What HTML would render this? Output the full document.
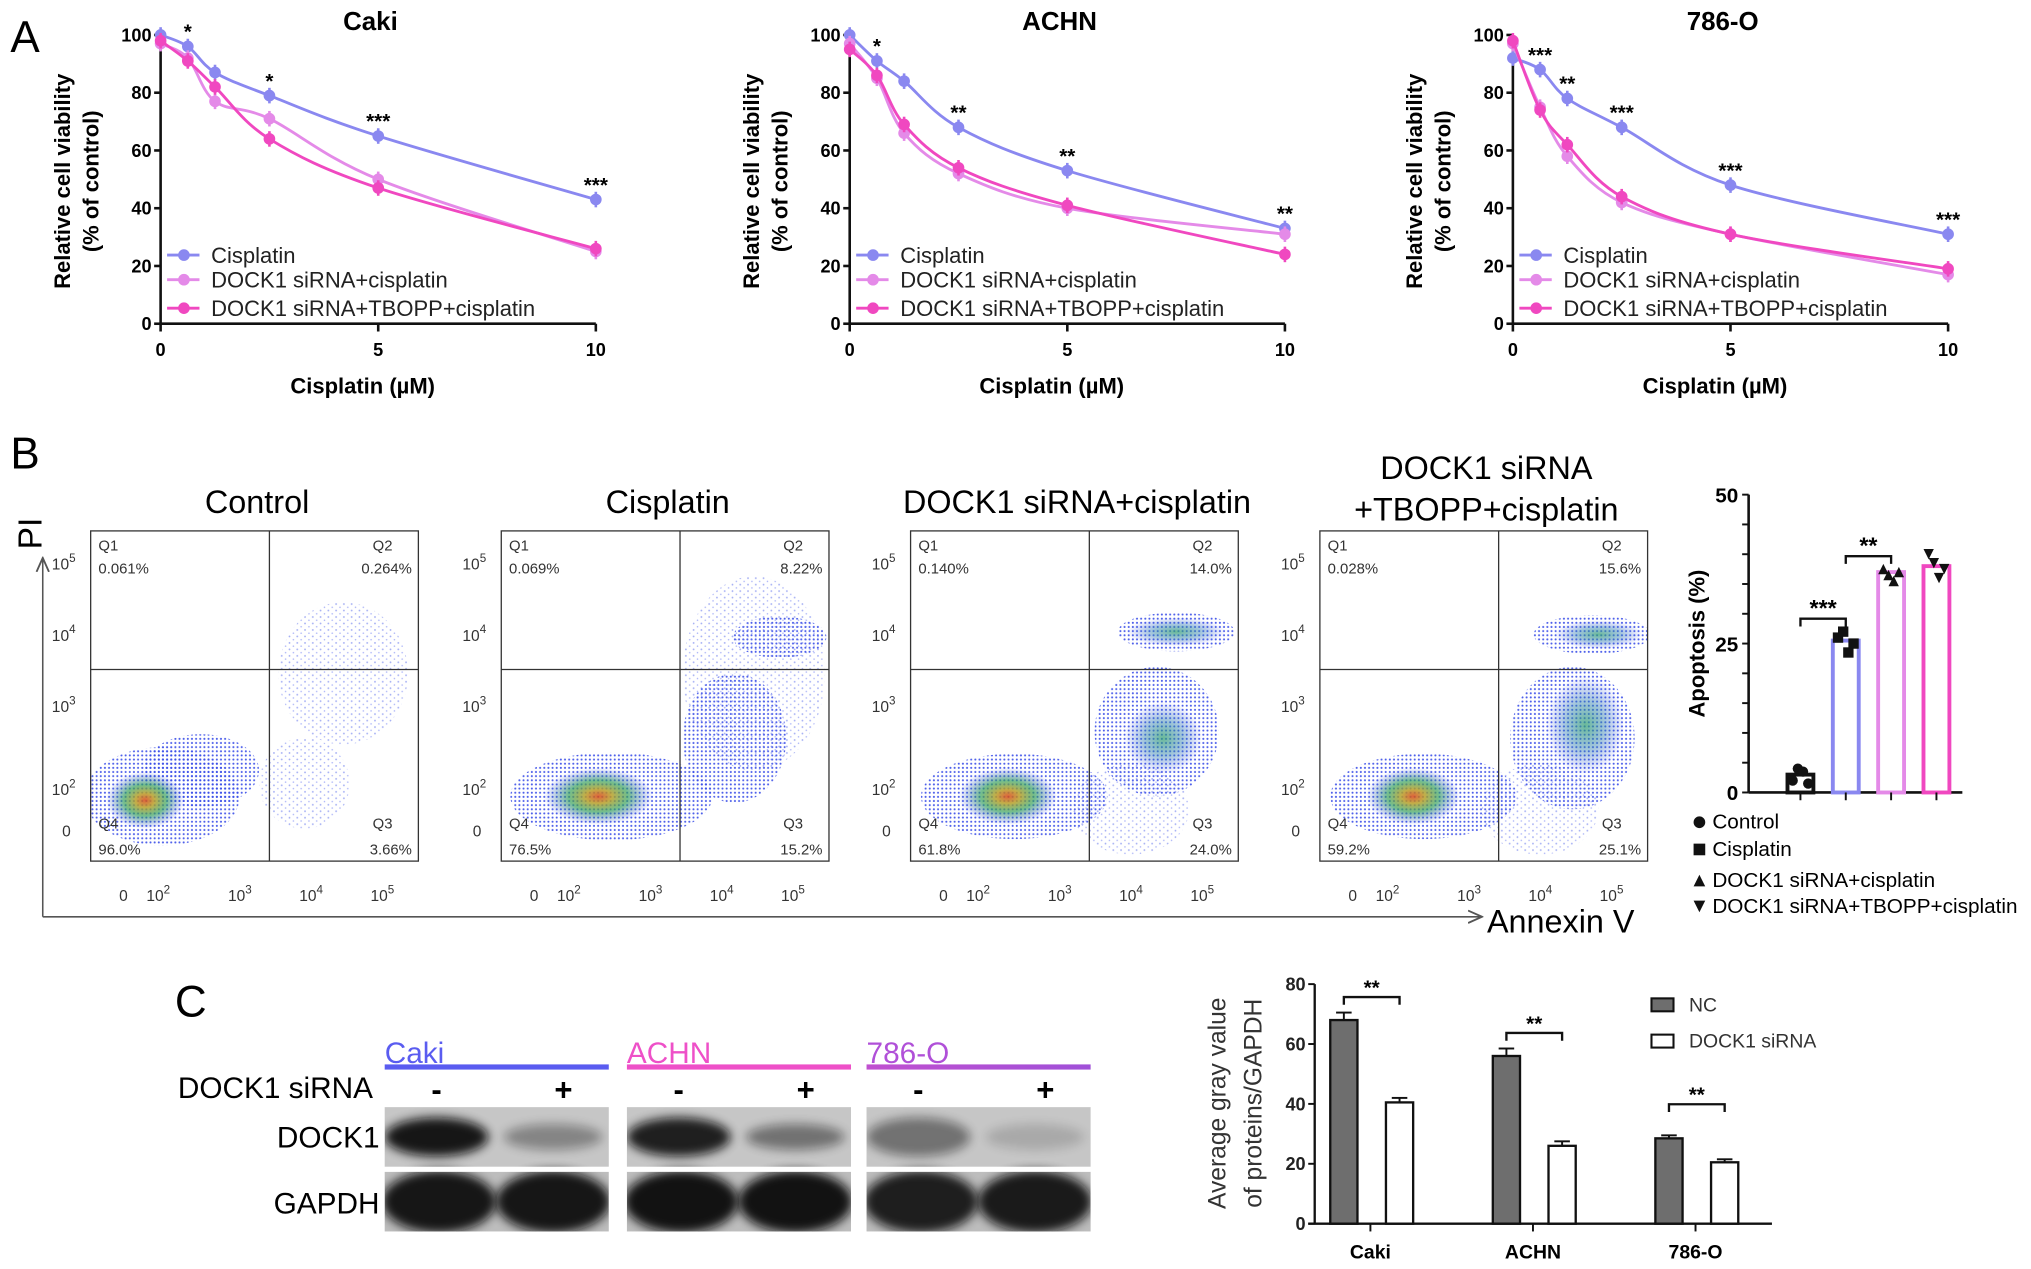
<!DOCTYPE html>
<html><head><meta charset="utf-8">
<style>
html,body{margin:0;padding:0;background:#fff;}
svg{display:block;font-family:"Liberation Sans",Arial,sans-serif;}
</style></head>
<body>
<svg id="fig" width="2031" height="1269" viewBox="0 0 1568 980" preserveAspectRatio="none" xmlns="http://www.w3.org/2000/svg">
<defs>
<pattern id="dotsBlue" width="3.2" height="3.2" patternUnits="userSpaceOnUse"><circle cx="1" cy="1" r="0.8" fill="#3a4ee8"/></pattern>
<pattern id="dotsSparse" width="6" height="5" patternUnits="userSpaceOnUse"><circle cx="1.5" cy="1.5" r="0.7" fill="#4a5ee8"/><circle cx="4.5" cy="4" r="0.6" fill="#6070f0"/></pattern>
<radialGradient id="core" cx="50%" cy="50%" r="50%">
<stop offset="0" stop-color="#d84818"/><stop offset="0.25" stop-color="#b8a028"/><stop offset="0.55" stop-color="#30a058" stop-opacity="0.8"/><stop offset="1" stop-color="#2840e0" stop-opacity="0"/>
</radialGradient>
<radialGradient id="green" cx="50%" cy="50%" r="50%">
<stop offset="0" stop-color="#30a070" stop-opacity="0.8"/><stop offset="0.5" stop-color="#3080b0" stop-opacity="0.5"/><stop offset="1" stop-color="#2840e0" stop-opacity="0"/>
</radialGradient>
<linearGradient id="purpleLine" x1="0" x2="1"><stop offset="0" stop-color="#c050d0"/><stop offset="1" stop-color="#a050d8"/></linearGradient>
<filter id="blur" x="-30%" y="-60%" width="160%" height="220%"><feGaussianBlur stdDeviation="4"/></filter>
<marker id="arrow" markerWidth="10" markerHeight="10" refX="8" refY="5" orient="auto"><path d="M0,1 L9,5 L0,9" fill="none" stroke="#555" stroke-width="1.2"/></marker>
</defs>

<text x="8" y="40" font-size="34">A</text>
<text x="8" y="362" font-size="34">B</text>
<text x="135" y="785" font-size="34">C</text>

<g id="panelA"></g>
<g id="panelB"></g>
<g id="apop"></g>
<g id="blot"></g>
<g id="gray"></g>
</svg>

<script>
// ---------- Panel A data ----------
const doses = [0, 0.625, 1.25, 2.5, 5, 10];
const xTicksA = [0, 5, 10];
const yTicksA = [0, 20, 40, 60, 80, 100];
const seriesNames = ['Cisplatin', 'DOCK1 siRNA+cisplatin', 'DOCK1 siRNA+TBOPP+cisplatin'];
const cakiCis = [100, 96, 87, 79, 65, 43];
const cakiSi  = [97, 92, 77, 71, 50, 25];
const cakiTb  = [98, 91, 82, 64, 47, 26];
const cakiStars = ['', '*', '', '*', '***', '***'];
const achnCis = [100, 91, 84, 68, 53, 33];
const achnSi  = [97, 85, 66, 52, 40, 31];
const achnTb  = [95, 86, 69, 54, 41, 24];
const achnStars = ['', '*', '', '**', '**', '**'];
const o786Cis = [92, 88, 78, 68, 48, 31];
const o786Si  = [97, 75, 58, 42, 31, 17];
const o786Tb  = [98, 74, 62, 44, 31, 19];
const o786Stars = ['', '***', '**', '***', '***', '***'];

// ---------- Panel B data ----------
const flowTitles = ['Control', 'Cisplatin', 'DOCK1 siRNA+cisplatin', 'DOCK1 siRNA\n+TBOPP+cisplatin'];
const flowQ1 = ['0.061%', '0.069%', '0.140%', '0.028%'];
const flowQ2 = ['0.264%', '8.22%', '14.0%', '15.6%'];
const flowQ3 = ['3.66%', '15.2%', '24.0%', '25.1%'];
const flowQ4 = ['96.0%', '76.5%', '61.8%', '59.2%'];

const apopGroups = ['Control', 'Cisplatin', 'DOCK1 siRNA+cisplatin', 'DOCK1 siRNA+TBOPP+cisplatin'];
const apopValues = [3, 25.5, 37, 38];
const apopPoints = [[2, 4, 3.5, 1.5], [26, 27, 23.5, 25], [37.5, 36.5, 35.5, 37], [40, 38.5, 36, 37.5]];
const apopTicks = [0, 25, 50];

// ---------- Panel C data ----------
const grayCats = ['Caki', 'ACHN', '786-O'];
const grayNC = [68, 56, 28.5];
const graySi = [40.5, 26, 20.5];
const grayNCerr = [2.5, 2.5, 1];
const graySiErr = [1.5, 1.5, 1];
const grayTicks = [0, 20, 40, 60, 80];

const NS = 'http://www.w3.org/2000/svg';
function mk(tag, attrs, parent) {
  const e = document.createElementNS(NS, tag);
  for (const k in attrs) e.setAttribute(k, attrs[k]);
  parent.appendChild(e);
  return e;
}
const colors = ['#8a88f0', '#e48ae8', '#f048c0'];

// ================= Panel A =================
const panelA = document.getElementById('panelA');
const aPanels = [
  {title: 'Caki', x0: 124, data: [cakiCis, cakiSi, cakiTb], stars: cakiStars},
  {title: 'ACHN', x0: 656, data: [achnCis, achnSi, achnTb], stars: achnStars},
  {title: '786-O', x0: 1168, data: [o786Cis, o786Si, o786Tb], stars: o786Stars}
];
function smoothPath(pts) {
  let d = 'M' + pts[0][0] + ',' + pts[0][1];
  for (let i = 0; i < pts.length - 1; i++) {
    const p0 = pts[i - 1] || pts[i], p1 = pts[i], p2 = pts[i + 1], p3 = pts[i + 2] || p2;
    const c1x = p1[0] + (p2[0] - p0[0]) / 6, c1y = p1[1] + (p2[1] - p0[1]) / 6;
    const c2x = p2[0] - (p3[0] - p1[0]) / 6, c2y = p2[1] - (p3[1] - p1[1]) / 6;
    d += ' C' + c1x + ',' + c1y + ' ' + c2x + ',' + c2y + ' ' + p2[0] + ',' + p2[1];
  }
  return d;
}
aPanels.forEach((p, pi) => {
  const g = mk('g', {}, panelA);
  
  
  const xs = v => p.x0 + v / 10 * 336;
  const ys = v => 250 - v / 100 * 223;
  const t = mk('text', {x: xs(5) - 6, y: 23, 'font-size': 20, 'font-weight': 'bold', 'text-anchor': 'middle'}, g);
  t.textContent = p.title;
  
  
  const yl = mk('text', {transform: 'translate(' + (p.x0 - 70) + ',140) rotate(-90)', 'font-size': 17, 'font-weight': 'bold', 'text-anchor': 'middle'}, g);
  yl.textContent = 'Relative cell viability';
  
  
  const yl2 = mk('text', {transform: 'translate(' + (p.x0 - 48) + ',140) rotate(-90)', 'font-size': 17, 'font-weight': 'bold', 'text-anchor': 'middle'}, g);
  yl2.textContent = '(% of control)';
  
  
  const xl = mk('text', {x: xs(5) - 12, y: 304, 'font-size': 17, 'font-weight': 'bold', 'text-anchor': 'middle'}, g);
  xl.textContent = 'Cisplatin (µM)';
  
  
  const ya = mk('line', {x1: p.x0, y1: ys(100), x2: p.x0, y2: ys(0), stroke: '#111', 'stroke-width': 2}, g);
  
  
  const xa = mk('line', {x1: p.x0, y1: ys(0), x2: xs(10), y2: ys(0), stroke: '#111', 'stroke-width': 2}, g);
  
  
  yTicksA.forEach(v => {
    mk('line', {x1: p.x0 - 5, y1: ys(v), x2: p.x0, y2: ys(v), stroke: '#111', 'stroke-width': 2}, g);
    const tl = mk('text', {x: p.x0 - 7, y: ys(v) + 5, 'font-size': 14, 'font-weight': 'bold', 'text-anchor': 'end'}, g);
    tl.textContent = v;
    
    
  });
  xTicksA.forEach(v => {
    mk('line', {x1: xs(v), y1: ys(0), x2: xs(v), y2: ys(0) + 6, stroke: '#111', 'stroke-width': 2}, g);
    const tl = mk('text', {x: xs(v), y: 275, 'font-size': 14, 'font-weight': 'bold', 'text-anchor': 'middle'}, g);
    tl.textContent = v;
    
    
  });
  p.data.forEach((arr, si) => {
    const pts = doses.map((d, i) => [xs(d), ys(arr[i])]);
    const path = mk('path', {d: smoothPath(pts), fill: 'none', stroke: colors[si], 'stroke-width': 2.2}, g);
    
    
    pts.forEach(pt => {
      const c = mk('circle', {cx: pt[0], cy: pt[1], r: 4.5, fill: colors[si]}, g);
      
      
      mk('line', {x1: pt[0], y1: pt[1] - 6, x2: pt[0], y2: pt[1] + 6, stroke: colors[si], 'stroke-width': 2}, g);
    });
  });
  p.stars.forEach((s, i) => {
    if (!s) return;
    const top = Math.max(p.data[0][i], p.data[1][i], p.data[2][i]);
    const st = mk('text', {x: xs(doses[i]), y: ys(top) - 6, 'font-size': 16, 'font-weight': 'bold', 'text-anchor': 'middle'}, g);
    st.textContent = s;
    
    
  });
  seriesNames.forEach((n, si) => {
    const ly = [197, 216, 238][si];
    mk('line', {x1: p.x0 + 5, y1: ly, x2: p.x0 + 30, y2: ly, stroke: colors[si], 'stroke-width': 2.2}, g);
    const lm = mk('circle', {cx: p.x0 + 18, cy: ly, r: 4.5, fill: colors[si]}, g);
    
    
    const lt = mk('text', {x: p.x0 + 39, y: ly + 6, 'font-size': 17, fill: '#222'}, g);
    lt.textContent = n;
    
    
  });
});

// ================= Panel B: flow plots =================
const panelB = document.getElementById('panelB');
const piLabel = mk('text', {transform: 'translate(32,412) rotate(-90)', 'font-size': 26, 'text-anchor': 'middle'}, panelB);
piLabel.textContent = 'PI';


mk('line', {x1: 33, y1: 708, x2: 33, y2: 432, stroke: '#555', 'stroke-width': 1.2, 'marker-end': 'url(#arrow)'}, panelB);
mk('line', {x1: 33, y1: 708, x2: 1143, y2: 708, stroke: '#555', 'stroke-width': 1.2, 'marker-end': 'url(#arrow)'}, panelB);
const annex = mk('text', {x: 1148, y: 720, 'font-size': 25}, panelB);
annex.textContent = 'Annexin V';



const boxLefts = [70, 387, 703, 1019];
const blobs = [
  [ {t:'d',cx:55,cy:205,rx:60,ry:38}, {t:'d',cx:85,cy:185,rx:45,ry:28}, {t:'s',cx:195,cy:110,rx:50,ry:55}, {t:'s',cx:165,cy:195,rx:35,ry:35}, {t:'c',cx:42,cy:208,rx:30,ry:22} ],
  [ {t:'d',cx:85,cy:205,rx:78,ry:34}, {t:'d',cx:180,cy:160,rx:40,ry:50}, {t:'d',cx:215,cy:82,rx:36,ry:16}, {t:'s',cx:195,cy:110,rx:55,ry:75}, {t:'c',cx:75,cy:205,rx:42,ry:22} ],
  [ {t:'d',cx:80,cy:205,rx:72,ry:33}, {t:'d',cx:190,cy:155,rx:48,ry:50}, {t:'d',cx:205,cy:78,rx:45,ry:15}, {t:'g',cx:205,cy:78,rx:38,ry:11}, {t:'g',cx:195,cy:160,rx:30,ry:28}, {t:'s',cx:170,cy:215,rx:45,ry:35}, {t:'c',cx:75,cy:205,rx:38,ry:22} ],
  [ {t:'d',cx:80,cy:205,rx:72,ry:33}, {t:'d',cx:195,cy:160,rx:48,ry:55}, {t:'d',cx:210,cy:80,rx:45,ry:15}, {t:'g',cx:215,cy:80,rx:34,ry:11}, {t:'g',cx:205,cy:150,rx:30,ry:38}, {t:'s',cx:170,cy:215,rx:45,ry:35}, {t:'c',cx:72,cy:205,rx:36,ry:22} ]
];
boxLefts.forEach((bx, i) => {
  const g = mk('g', {}, panelB);
  
  
  const by = 410, bw = 253, bh = 255;
  const lines = flowTitles[i].split('\n');
  lines.forEach((ln, k) => {
    const tt = mk('text', {x: bx + bw / 2 + 2, y: (lines.length > 1 ? 370 + k * 32 : 396), 'font-size': 25, 'text-anchor': 'middle'}, g);
    tt.textContent = ln;
    
    
  });
  const cp = 'clipF' + i;
  const clip = mk('clipPath', {id: cp}, g);
  mk('rect', {x: bx, y: by, width: bw, height: bh}, clip);
  const bg = mk('g', {'clip-path': 'url(#' + cp + ')'}, g);
  blobs[i].forEach(b => {
    const fill = b.t === 'd' ? 'url(#dotsBlue)' : b.t === 's' ? 'url(#dotsSparse)' : b.t === 'g' ? 'url(#green)' : 'url(#core)';
    mk('ellipse', {cx: bx + b.cx, cy: by + b.cy, rx: b.rx, ry: b.ry, fill: fill, opacity: b.t === 's' ? 0.5 : (b.t === 'c' ? 0.85 : 0.9)}, bg);
  });
  const box = mk('rect', {x: bx, y: by, width: bw, height: bh, fill: 'none', stroke: '#333', 'stroke-width': 1}, g);
  
  
  mk('line', {x1: bx + 138, y1: by, x2: bx + 138, y2: by + bh, stroke: '#333', 'stroke-width': 1}, g);
  mk('line', {x1: bx, y1: by + 107, x2: bx + bw, y2: by + 107, stroke: '#333', 'stroke-width': 1}, g);
  const qs = [
    ['Q1', bx + 6, by + 15, 'start'], [flowQ1[i], bx + 6, by + 33, 'start'],
    ['Q2', bx + bw - 20, by + 15, 'end'], [flowQ2[i], bx + bw - 5, by + 33, 'end'],
    ['Q4', bx + 6, by + 230, 'start'], [flowQ4[i], bx + 6, by + 250, 'start'],
    ['Q3', bx + bw - 20, by + 230, 'end'], [flowQ3[i], bx + bw - 5, by + 250, 'end']
  ];
  qs.forEach(q => {
    const qt = mk('text', {x: q[1], y: q[2], 'font-size': 11.5, 'text-anchor': q[3], fill: '#333'}, g);
    qt.textContent = q[0];
    
    
  });
  [['5', 30], ['4', 85], ['3', 140], ['2', 204]].forEach(t => {
    const tl = mk('text', {x: bx - 30, y: by + t[1], 'font-size': 12, fill: '#333'}, g);
    tl.textContent = '10';
    const sup = mk('tspan', {dy: -6, 'font-size': 9}, tl);
    sup.textContent = t[0];
    
    
  });
  const z = mk('text', {x: bx - 22, y: by + 236, 'font-size': 12, fill: '#333'}, g);
  z.textContent = '0';
  const zx = mk('text', {x: bx + 22, y: by + 286, 'font-size': 12, fill: '#333'}, g);
  zx.textContent = '0';
  [['2', 43], ['3', 106], ['4', 161], ['5', 216]].forEach(t => {
    const tl = mk('text', {x: bx + t[1], y: by + 286, 'font-size': 12, fill: '#333'}, g);
    tl.textContent = '10';
    const sup = mk('tspan', {dy: -6, 'font-size': 9}, tl);
    sup.textContent = t[0];
    
    
  });
});

// ================= Apoptosis chart =================
const apop = document.getElementById('apop');
const ax0 = 1350, ay0 = 612, ayTop = 382;
const apY = v => ay0 - v / 50 * (ay0 - ayTop);
const apX = i => 1390 + i * 35;
const apColors = ['#111', '#8a88f0', '#e48ae8', '#f048c0'];
mk('line', {x1: ax0, y1: ayTop, x2: ax0, y2: ay0, stroke: '#111', 'stroke-width': 2}, apop);
mk('line', {x1: ax0, y1: ay0, x2: 1515, y2: ay0, stroke: '#111', 'stroke-width': 2}, apop);
for (let v = 0; v <= 50; v += 5) mk('line', {x1: ax0 - 5, y1: apY(v), x2: ax0, y2: apY(v), stroke: '#111', 'stroke-width': 1.5}, apop);
apopTicks.forEach(v => {
  const tl = mk('text', {x: ax0 - 8, y: apY(v) + 6, 'font-size': 16, 'font-weight': 'bold', 'text-anchor': 'end'}, apop);
  tl.textContent = v;
  
  
});
const apT = mk('text', {transform: 'translate(1316,497) rotate(-90)', 'font-size': 17, 'font-weight': 'bold', 'text-anchor': 'middle'}, apop);
apT.textContent = 'Apoptosis (%)';


const markerShape = (i, x, y, s) => {
  if (i === 0) return mk('circle', {cx: x, cy: y, r: s / 2, fill: '#111'}, apop);
  if (i === 1) return mk('rect', {x: x - s / 2, y: y - s / 2, width: s, height: s, fill: '#111'}, apop);
  if (i === 2) return mk('path', {d: 'M' + x + ',' + (y - s / 2) + ' L' + (x + s / 2) + ',' + (y + s / 2) + ' L' + (x - s / 2) + ',' + (y + s / 2) + 'Z', fill: '#111'}, apop);
  return mk('path', {d: 'M' + x + ',' + (y + s / 2) + ' L' + (x + s / 2) + ',' + (y - s / 2) + ' L' + (x - s / 2) + ',' + (y - s / 2) + 'Z', fill: '#111'}, apop);
};
apopValues.forEach((v, i) => {
  const b = mk('rect', {x: apX(i) - 10, y: apY(v), width: 20, height: ay0 - apY(v), fill: 'none', stroke: apColors[i], 'stroke-width': 3}, apop);
  
  
  mk('line', {x1: apX(i), y1: ay0, x2: apX(i), y2: ay0 + 6, stroke: '#111', 'stroke-width': 1.5}, apop);
  apopPoints[i].forEach((pv, k) => {
    const m = markerShape(i, apX(i) - 6 + k * 4, apY(pv), 8);
    
    
  });
});
function bracket(parent, x1, x2, y, label, fs) {
  mk('path', {d: 'M' + x1 + ',' + (y + 6) + ' L' + x1 + ',' + y + ' L' + x2 + ',' + y + ' L' + x2 + ',' + (y + 6), fill: 'none', stroke: '#111', 'stroke-width': 1.8}, parent);
  const t = mk('text', {x: (x1 + x2) / 2, y: y - 2, 'font-size': fs, 'font-weight': 'bold', 'text-anchor': 'middle'}, parent);
  t.textContent = label;
  return t;
}
const b1 = bracket(apop, apX(0), apX(1), apY(Math.max(...apopPoints[1])) - 10, '***', 18);


const b2 = bracket(apop, apX(1), apX(2), apY(Math.max(...apopPoints[2])) - 10, '**', 18);


apopGroups.forEach((n, i) => {
  const ly = [640, 661, 685, 705][i];
  markerShape(i, 1312, ly - 5, 9);
  const lt = mk('text', {x: 1322, y: ly, 'font-size': 16}, apop);
  lt.textContent = n;
  
  
});

// ================= Western blot =================
const blot = document.getElementById('blot');
const lanes = [
  {name: 'Caki', x: 297, color: '#5a5cf0', dock: [0.95, 0.35], gapdh: [0.95, 0.95]},
  {name: 'ACHN', x: 484, color: '#ee50c8', dock: [0.9, 0.45], gapdh: [0.97, 0.97]},
  {name: '786-O', x: 669, color: '#b050d8', dock: [0.45, 0.15], gapdh: [0.9, 0.92]}
];
const sirna = mk('text', {x: 288, y: 848, 'font-size': 23, 'text-anchor': 'end'}, blot);
sirna.textContent = 'DOCK1 siRNA';


const dl = mk('text', {x: 293, y: 886, 'font-size': 23, 'text-anchor': 'end'}, blot);
dl.textContent = 'DOCK1';


const gl = mk('text', {x: 293, y: 937, 'font-size': 23, 'text-anchor': 'end'}, blot);
gl.textContent = 'GAPDH';


lanes.forEach((l, i) => {
  const w = 173;
  const t = mk('text', {x: l.x, y: 821, 'font-size': 23, fill: l.color}, blot);
  t.textContent = l.name;
  
  
  mk('rect', {x: l.x, y: 822, width: w, height: 4, fill: i === 2 ? 'url(#purpleLine)' : l.color}, blot);
  const m = mk('text', {x: l.x + 40, y: 850, 'font-size': 24, 'font-weight': 'bold', 'text-anchor': 'middle'}, blot);
  m.textContent = '-';
  const p = mk('text', {x: l.x + 138, y: 850, 'font-size': 24, 'font-weight': 'bold', 'text-anchor': 'middle'}, blot);
  p.textContent = '+';
  const cp = 'clipB' + i;
  const clip = mk('clipPath', {id: cp}, blot);
  mk('rect', {x: l.x, y: 855, width: w, height: 46}, clip);
  mk('rect', {x: l.x, y: 905, width: w, height: 46}, clip);
  const strip1 = mk('rect', {x: l.x, y: 855, width: w, height: 46, fill: '#c6c6c6'}, blot);
  
  
  const strip2 = mk('rect', {x: l.x, y: 905, width: w, height: 46, fill: '#bdbdbd'}, blot);
  
  
  const bg = mk('g', {'clip-path': 'url(#' + cp + ')'}, blot);
  mk('ellipse', {cx: l.x + 40, cy: 878, rx: 40, ry: 15, fill: '#0a0a0a', opacity: l.dock[0], filter: 'url(#blur)'}, bg);
  mk('ellipse', {cx: l.x + 130, cy: 878, rx: 38, ry: 10, fill: '#0a0a0a', opacity: l.dock[1], filter: 'url(#blur)'}, bg);
  mk('ellipse', {cx: l.x + 42, cy: 928, rx: 44, ry: 24, fill: '#0a0a0a', opacity: l.gapdh[0], filter: 'url(#blur)'}, bg);
  mk('ellipse', {cx: l.x + 130, cy: 928, rx: 44, ry: 24, fill: '#0a0a0a', opacity: l.gapdh[1], filter: 'url(#blur)'}, bg);
});

// ================= Gray value chart =================
const gray = document.getElementById('gray');
const gx0 = 1015, gy0 = 945, gyTop = 760;
const gY = v => gy0 - v / 80 * (gy0 - gyTop);
const gCenter = i => 1058 + i * 125.5;
mk('line', {x1: gx0, y1: gyTop, x2: gx0, y2: gy0, stroke: '#111', 'stroke-width': 1.8}, gray);
mk('line', {x1: gx0 - 5, y1: gy0, x2: 1368, y2: gy0, stroke: '#111', 'stroke-width': 1.8}, gray);
grayTicks.forEach(v => {
  mk('line', {x1: gx0 - 5, y1: gY(v), x2: gx0, y2: gY(v), stroke: '#111', 'stroke-width': 1.5}, gray);
  const tl = mk('text', {x: gx0 - 7, y: gY(v) + 5, 'font-size': 14, 'font-weight': 'bold', 'text-anchor': 'end', fill: '#222'}, gray);
  tl.textContent = v;
  
  
});
const gt1 = mk('text', {transform: 'translate(946,852) rotate(-90)', 'font-size': 19, 'text-anchor': 'middle', fill: '#333'}, gray);
gt1.textContent = 'Average gray value';


const gt2 = mk('text', {transform: 'translate(974,852) rotate(-90)', 'font-size': 19, 'text-anchor': 'middle', fill: '#333'}, gray);
gt2.textContent = 'of proteins/GAPDH';


grayCats.forEach((c, i) => {
  const cx = gCenter(i);
  const nc = mk('rect', {x: cx - 31, y: gY(grayNC[i]), width: 21, height: gy0 - gY(grayNC[i]), fill: '#6e6e6e', stroke: '#111', 'stroke-width': 1.8}, gray);
  
  
  const si = mk('rect', {x: cx + 12, y: gY(graySi[i]), width: 21, height: gy0 - gY(graySi[i]), fill: '#fff', stroke: '#111', 'stroke-width': 1.8}, gray);
  
  
  [[cx - 20.5, grayNC[i], grayNCerr[i]], [cx + 22.5, graySi[i], graySiErr[i]]].forEach(([x, v, e]) => {
    mk('line', {x1: x, y1: gY(v), x2: x, y2: gY(v + e), stroke: '#111', 'stroke-width': 1.5}, gray);
    mk('line', {x1: x - 6, y1: gY(v + e), x2: x + 6, y2: gY(v + e), stroke: '#111', 'stroke-width': 1.5}, gray);
  });
  mk('line', {x1: cx, y1: gy0, x2: cx, y2: gy0 + 6, stroke: '#111', 'stroke-width': 1.5}, gray);
  const tl = mk('text', {x: cx, y: 972, 'font-size': 15, 'font-weight': 'bold', 'text-anchor': 'middle'}, gray);
  tl.textContent = c;
  
  
  const br = bracket(gray, cx - 20.5, cx + 22.5, gY(grayNC[i] + grayNCerr[i]) - 12 + (i === 2 ? -12 : 0), '**', 16);
  
  
});
[['NC', '#6e6e6e', 778], ['DOCK1 siRNA', '#fff', 806]].forEach(([n, f, y]) => {
  mk('rect', {x: 1275, y: y - 7, width: 17, height: 10, fill: f, stroke: '#111', 'stroke-width': 1.6}, gray);
  const lt = mk('text', {x: 1304, y: y + 3, 'font-size': 15, fill: '#333'}, gray);
  lt.textContent = n;
  
  
});
</script>
</body></html>
